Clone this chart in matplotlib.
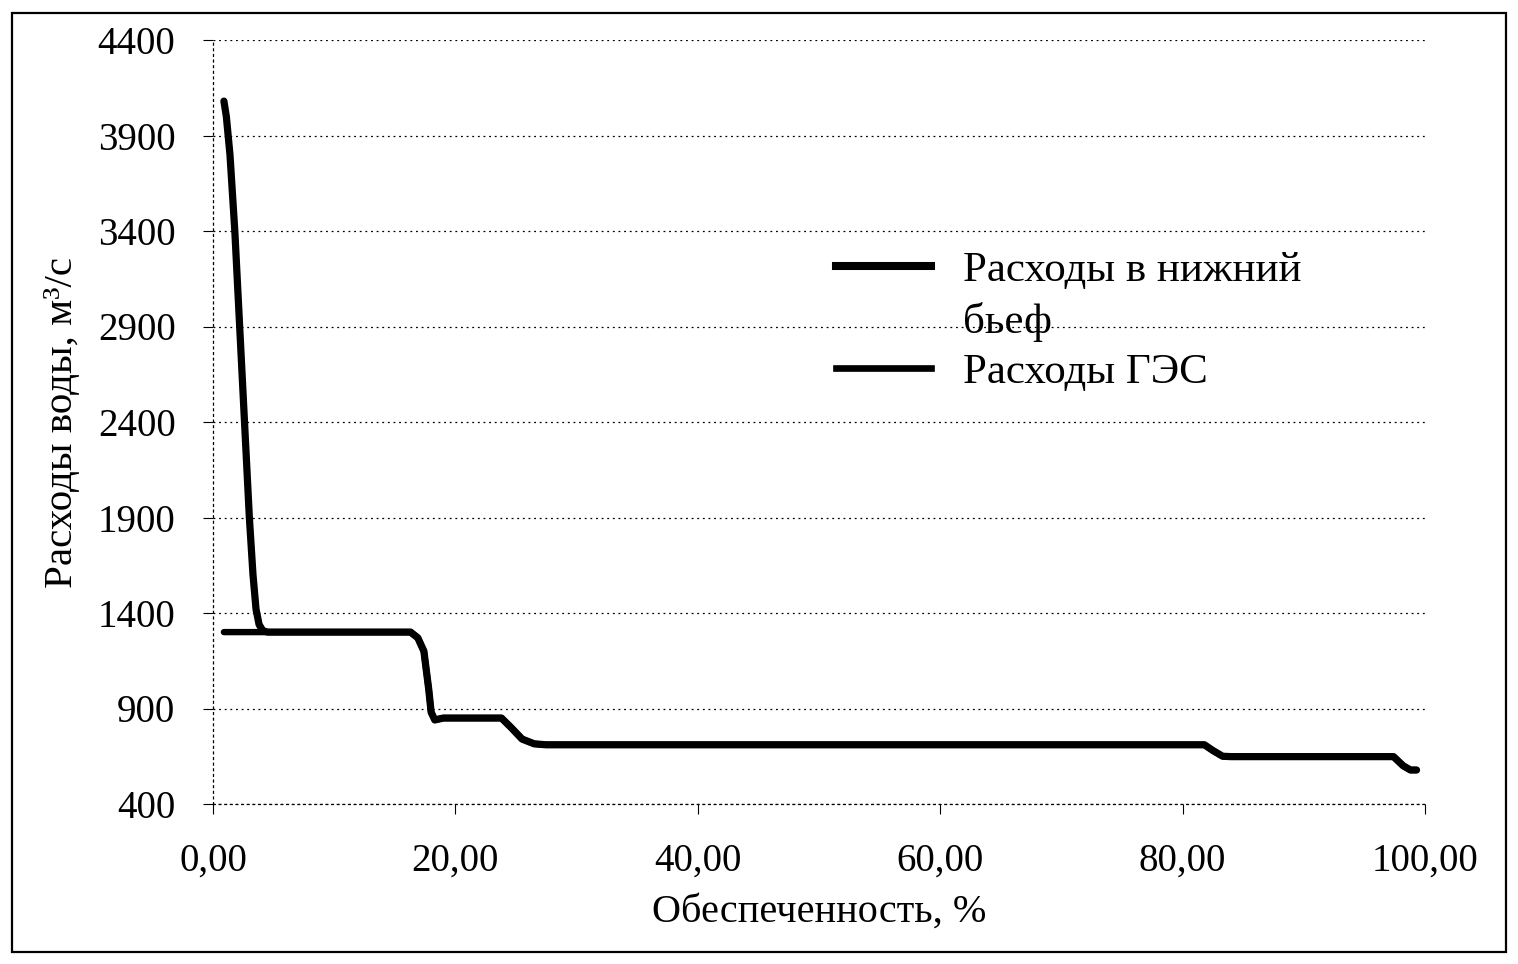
import matplotlib
matplotlib.use("Agg")
import matplotlib.pyplot as plt
from matplotlib.lines import Line2D
from matplotlib.patches import Rectangle

# ---- data ----
spike_x = [0.9, 1.1, 1.4, 1.8, 2.2, 2.6, 3.0, 3.3, 3.55, 3.8, 4.1]
spike_y = [4080, 4000, 3800, 3400, 2900, 2400, 1900, 1600, 1420, 1340, 1308]
tail_x = [4.5, 10.0, 16.3, 16.9, 17.4, 17.8, 18.0, 18.3, 19.0, 23.8, 24.6,
          25.5, 26.5, 27.5, 50.0, 81.8, 82.5, 83.3, 84.0, 90.0, 97.4, 98.2,
          98.8, 99.3]
tail_y = [1300, 1300, 1300, 1270, 1200, 1000, 880, 840, 850, 850, 800,
          740, 715, 710, 710, 710, 680, 650, 648, 648, 648, 600,
          578, 578]
ges_start_x = [0.9]
ges_start_y = [1300]

lowbief_x = spike_x + tail_x
lowbief_y = spike_y + tail_y
ges_x = ges_start_x + tail_x
ges_y = ges_start_y + tail_y

legend_lines = ["Расходы в нижний", "бьеф", "Расходы ГЭС"]
xlabel = "Обеспеченность, %"
ylabel = "Расходы воды, м³/с"
yticks = list(range(400, 4401, 500))
xticks = [0, 20, 40, 60, 80, 100]
xticklabels = ["0,00", "20,00", "40,00", "60,00", "80,00", "100,00"]

plt.rcParams['font.family'] = ['Liberation Serif', 'DejaVu Serif']

fig = plt.figure(figsize=(15.18, 9.64), dpi=100)
ax = fig.add_axes([213/1518, 1-804/964, (1425-213)/1518, (804-40)/964])

ax.plot(ges_x, ges_y, color='black', lw=4.6, solid_joinstyle='round',
        solid_capstyle='round')
ax.plot(lowbief_x, lowbief_y, color='black', lw=5.2, solid_joinstyle='round',
        solid_capstyle='round')

ax.set_xlim(0, 100)
ax.set_ylim(400, 4400)
ax.set_yticks(yticks)
ax.set_xticks(xticks)
ax.set_xticklabels(xticklabels)
ax.tick_params(labelsize=28, length=7, width=0.8, direction='out')
ax.tick_params(axis='y', pad=20)
ax.tick_params(axis='x', pad=21)

ax.grid(axis='y', linestyle=(0, (1.5, 3)), color='black', lw=0.9)
ax.set_axisbelow(True)
for s in ['top', 'right']:
    ax.spines[s].set_visible(False)
for s in ['left', 'bottom']:
    ax.spines[s].set_linestyle((0, (1.5, 3)))
    ax.spines[s].set_linewidth(0.9)

ax.set_xlabel(xlabel, fontsize=29, labelpad=10)
ax.set_ylabel(ylabel, fontsize=29.5, labelpad=12)

handles = [Line2D([], [], color='black', lw=5.8),
           Line2D([], [], color='none', lw=0),
           Line2D([], [], color='black', lw=4.8)]
leg = ax.legend(handles, legend_lines, loc='upper left',
                bbox_to_anchor=((819-213)/1212, (804-234)/764),
                frameon=False, fontsize=31, handlelength=2.2,
                handletextpad=0.74, labelspacing=0.26, borderaxespad=0)

fig.patches.append(Rectangle((12/1518, 1-952/964), (1506-12)/1518, (952-13)/964,
                             transform=fig.transFigure, fill=False,
                             edgecolor='black', lw=1.6))

fig.savefig("out.png", dpi=100)
